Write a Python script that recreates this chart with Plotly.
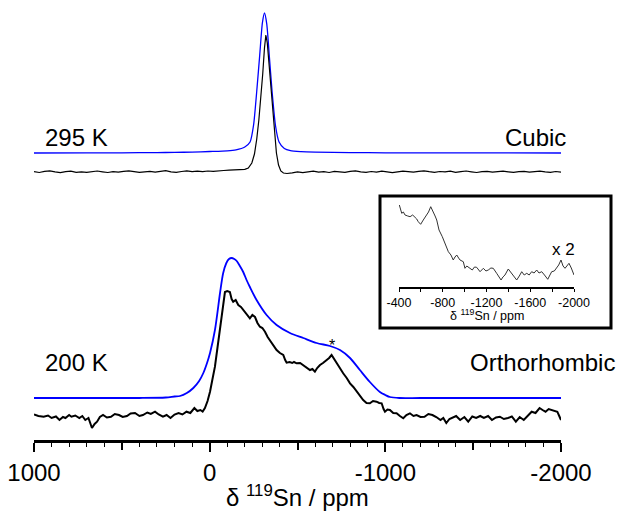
import plotly.graph_objects as go

# ---------------- data ----------------
# 295 K (cubic) fit (blue) : chemical shift (ppm) and intensity (a.u.)
top_fit_ppm = [1000, 700, 500, 300, 200, 100, 0, -100, -150, -200, -230, -250, -270, -285, -300, -312,
               -325, -340, -355, -375, -395, -425, -460, -520, -600, -800, -1000, -1400, -2000]
top_fit_int = [0, 0.1, 0.2, 0.4, 0.6, 0.9, 1.5, 2.2, 3.2, 6, 11, 28, 66, 98, 130, 140,
               129, 96, 62, 27, 11, 4.5, 2.3, 1.4, 0.9, 0.4, 0.2, 0.1, 0]

# 295 K experimental (black)
top_exp_ppm_left = [1000, 970, 940, 910, 880, 850, 820, 790, 760, 730,
                    700, 670, 640, 610, 580, 550, 520, 490, 460, 430,
                    400, 370, 340, 310, 280, 250, 220, 190, 160, 130,
                    100, 70, 40, 10, -20, -50, -80, -110, -140, -170]
top_exp_int_left = [0.3, -0.5, 0.6, 1.2, 0.1, -0.6, 0.4, 0.9, -0.3, 0.2,
                    -0.4, 0.5, 1.0, 0.2, -0.5, 0.3, -0.2, 0.7, 1.2, 0.4,
                    -0.3, 0.2, 0.6, -0.1, 0.8, 1.3, 0.2, -0.4, 0.5, 1.1,
                    0.3, 0.9, 0.4, 1.0, 0.6, 1.3, 1.5, 1.8, 2.1, 2.4]
top_exp_ppm_peak = [-200, -220, -240, -255, -268, -280, -292, -302, -312, -320,
                    -328, -338, -348, -358, -368, -380, -392, -405, -420, -440]
top_exp_int_peak = [2.6, 4, 9, 18, 33, 52, 74, 98, 124, 137,
                    129, 108, 84, 60, 40, 19, 7, 1, -1, -1.5]
top_exp_ppm_right = [-470, -500, -530, -560, -590, -620, -650, -680, -710, -740,
                     -770, -800, -830, -860, -890, -920, -950, -980, -1010, -1040,
                     -1070, -1100, -1130, -1160, -1190, -1220, -1250, -1280, -1310, -1340,
                     -1370, -1400, -1430, -1460, -1490, -1520, -1550, -1580, -1610, -1640,
                     -1670, -1700, -1730, -1760, -1790, -1820, -1850, -1880, -1910, -1940,
                     -1970, -2000]
top_exp_int_right = [-0.8, 0.2, -0.6, 0.4, 0.9, -0.2, 0.3, -0.5, 0.6, 0.1,
                     -0.4, 0.7, 1.1, 0.2, -0.3, 0.5, -0.1, 0.8, 0.3, -0.6,
                     0.2, 0.9, 0.4, -0.2, 0.6, 1.2, 0.3, -0.4, 0.5, 0.1,
                     0.8, -0.3, 0.4, 1.0, 0.2, -0.5, 0.3, 0.7, -0.1, 0.5,
                     0.9, 0.2, -0.4, 0.3, 0.6, -0.2, 0.4, 0.8, 0.1, -0.3,
                     0.5, -0.2]

# 200 K (orthorhombic) fit (blue)
bot_fit_ppm = [1000, 400, 250, 200, 169, 130, 93, 60, 36, 15,
               -2, -30, -59, -77, -95, -110, -125, -140, -154, -172,
               -191, -210, -229, -267, -324, -381, -457, -533, -609, -685,
               -742, -799, -855, -912, -969, -1000, -1026, -1080, -1200, -2000]
bot_fit_int = [0, 0, 0.5, 1.5, 2, 5, 10, 17, 25, 35,
               45, 68, 105, 125, 135, 139, 140, 139, 137, 132,
               126, 118, 111, 98, 83, 73, 65, 60, 55, 52,
               48, 40, 28, 16, 6, 3, 1, 0, 0, 0]

# 200 K experimental (black)
bot_exp_ppm = [1000, 975, 945, 920, 900, 875, 855, 835, 821, 800,
               787, 765, 742, 725, 708, 690, 670, 655, 641, 625,
               607, 585, 562, 540, 516, 495, 471, 450, 425, 400,
               380, 355, 335, 311, 290, 266, 245, 223, 200, 177,
               155, 132, 110, 87, 70, 53, 40, 27, 12, -2,
               -15, -30, -45, -59, -73, -87, -100, -115, -125, -134,
               -148, -163, -178, -191, -210, -229, -243, -258, -272, -286,
               -300, -315, -330, -343, -362, -381, -400, -419, -430, -438,
               -455, -470, -480, -495, -515, -533, -550, -571, -585, -599,
               -612, -628, -645, -666, -680, -694, -708, -723, -740, -760,
               -780, -799, -818, -837, -855, -874, -893, -912, -930, -950,
               -965, -979, -990, -998, -1012, -1026, -1045, -1064, -1083, -1102,
               -1120, -1140, -1160, -1178, -1200, -1223, -1245, -1268, -1290, -1314,
               -1330, -1347, -1365, -1381, -1403, -1426, -1450, -1472, -1495, -1517,
               -1540, -1561, -1585, -1607, -1630, -1652, -1675, -1698, -1720, -1743,
               -1765, -1788, -1810, -1833, -1855, -1878, -1895, -1912, -1930, -1946,
               -1962, -1979, -1990, -2000]
bot_exp_int = [0.5, -1, -1.7, -0.5, -3, -1.5, -5, -2, -3, 0,
               -1.7, -0.5, -3, -1, -5, -3, -13, -9, -6.7, -2,
               0, -2.5, -1.7, 1, 0, -2, -1, 1.5, 2, -1,
               0, 2.5, 1, 3.3, 0.5, -1.7, 0, -3, 0.5, 2,
               0.5, 3.3, 2, 7, 4, 5, 3.5, 7, 14, 23.3,
               35, 48.3, 68, 88.3, 106, 123, 124, 123, 116, 113.3,
               115, 110, 108, 105, 100, 96.7, 100, 98, 92, 88.3,
               87, 83.3, 78, 75, 70, 65, 62, 60, 55, 52.3,
               53, 52, 53, 51.7, 52, 50, 48, 45, 46, 43.3,
               47, 50, 52, 55, 57, 60, 56, 51.7, 47, 41.7,
               37, 31.7, 28, 23.3, 19, 15, 12, 11.7, 14, 13.3,
               12, 11.7, 6, 3.3, 5.5, 5, 2, 1.7, -1, -3.3,
               0, 1.7, -1, 0, -2, -1.7, 1, 0, -2, -5,
               -3, -8, -4, -3, -1, -5, -2, -6.7, -1.5, -3,
               -1, -3, -1, -5, -2.5, -1.7, -4, -3, -1.5, -6.7,
               -2, -5, -1, 3.3, 2, 7, 5, 3.3, 6, 5,
               4, 3.3, -1, -5]

# Inset (x 2)
inset_ppm = [-403, -425, -440, -455, -480, -501, -525, -546, -562, -576,
             -598, -622, -640, -653, -670, -690, -714, -730, -745, -766,
             -796, -821, -835, -851, -875, -896, -912, -928, -945, -958,
             -988, -1003, -1020, -1040, -1070, -1090, -1110, -1141, -1171, -1195,
             -1216, -1240, -1262, -1293, -1333, -1350, -1369, -1399, -1430, -1455,
             -1476, -1500, -1522, -1545, -1568, -1590, -1613, -1635, -1659, -1680,
             -1705, -1730, -1760, -1780, -1796, -1820, -1842, -1860, -1881, -1900,
             -1918, -1935, -1954, -1975, -2000]
inset_int = [82, 73.7, 75, 72, 71, 70.3, 72, 69.7, 68, 65.3,
             62.7, 67, 70, 72, 75, 80.3, 75.3, 71, 67, 57,
             50.3, 43.7, 40, 35.3, 32, 27, 30, 32, 29, 27,
             25.3, 18.7, 21, 19.7, 17, 20, 19.7, 15.3, 18.7, 16,
             17, 19, 18.7, 13.7, 7, 10, 12, 18, 13.7, 10,
             7, 11, 15.3, 12, 13.7, 12, 15.3, 14, 17, 14,
             15.3, 12, 7.7, 12, 15.3, 16, 18.7, 22, 27, 21,
             18.7, 21, 23.7, 19, 12]

main_label_vals = [1000, 0, -1000, -2000]
main_label_text = ["1000", "0", "-1000", "-2000"]
main_unlabeled_vals = [500, -500, -1500]
inset_tick_vals = [-400, -800, -1200, -1600, -2000]
inset_tick_text = ["-400", "-800", "-1200", "-1600", "-2000"]

# ---------------- layout constants ----------------
OFF_TOP_FIT, OFF_TOP_EXP = 287, 268
OFF_BOT_FIT, OFF_BOT_EXP = 42, 25
BLUE = "#0000ff"
FONT = "Arial, Liberation Sans, sans-serif"

assert len(top_fit_ppm) == len(top_fit_int)
assert len(top_exp_ppm_left) == len(top_exp_int_left)
assert len(top_exp_ppm_peak) == len(top_exp_int_peak)
assert len(top_exp_ppm_right) == len(top_exp_int_right)
assert len(bot_fit_ppm) == len(bot_fit_int)
assert len(bot_exp_ppm) == len(bot_exp_int)
assert len(inset_ppm) == len(inset_int)

top_exp_ppm = top_exp_ppm_left + top_exp_ppm_peak + top_exp_ppm_right
top_exp_int = top_exp_int_left + top_exp_int_peak + top_exp_int_right

fig = go.Figure()
fig.add_trace(go.Scatter(x=top_fit_ppm, y=[v + OFF_TOP_FIT for v in top_fit_int], mode="lines",
                         line=dict(color=BLUE, width=1.3, shape="spline", smoothing=0.6), hoverinfo="skip"))
fig.add_trace(go.Scatter(x=top_exp_ppm, y=[v + OFF_TOP_EXP for v in top_exp_int], mode="lines",
                         line=dict(color="black", width=1.2), hoverinfo="skip"))
fig.add_trace(go.Scatter(x=bot_fit_ppm, y=[v + OFF_BOT_FIT for v in bot_fit_int], mode="lines",
                         line=dict(color=BLUE, width=1.8, shape="spline", smoothing=0.8), hoverinfo="skip"))
fig.add_trace(go.Scatter(x=bot_exp_ppm, y=[v + OFF_BOT_EXP for v in bot_exp_int], mode="lines",
                         line=dict(color="black", width=2), hoverinfo="skip"))
fig.add_trace(go.Scatter(x=inset_ppm, y=inset_int, mode="lines", xaxis="x2", yaxis="y2",
                         line=dict(color="#333333", width=1), hoverinfo="skip"))
# carrier for the overlay axis holding the unlabeled long ticks
fig.add_trace(go.Scatter(x=main_unlabeled_vals, y=[None] * len(main_unlabeled_vals), mode="lines",
                         xaxis="x3", yaxis="y", hoverinfo="skip", showlegend=False))

W_FIG, H_FIG = 618, 513
L, B = 34, 73
W_PLOT = W_FIG - L
H_PLOT = H_FIG - B


def px(xp):
    return (xp - L) / W_PLOT


def py(yp):
    return (H_PLOT - yp) / H_PLOT


xdom = [0, px(561)]
fig.update_layout(
    template="none",
    width=W_FIG, height=H_FIG, autosize=False,
    margin=dict(l=L, r=0, t=0, b=B, pad=0, autoexpand=False),
    paper_bgcolor="white", plot_bgcolor="white",
    showlegend=False,
    font=dict(family=FONT, color="black"),
    xaxis=dict(domain=xdom, range=[1000, -2000], anchor="y", automargin=False,
               showline=True, linewidth=3, linecolor="black", mirror=False,
               ticks="outside", ticklen=9, tickwidth=1.5, tickcolor="black",
               tickmode="array", tickvals=main_label_vals, ticktext=main_label_text,
               tickfont=dict(size=24, family=FONT),
               minor=dict(tick0=0, dtick=100, ticks="outside", ticklen=4, tickwidth=1, tickcolor="black",
                          showgrid=False),
               showgrid=False, zeroline=False),
    xaxis3=dict(domain=xdom, range=[1000, -2000], anchor="y", overlaying="x", side="bottom",
                automargin=False,
                showline=False, ticks="outside", ticklen=9, tickwidth=1.5, tickcolor="black",
                tickmode="array", tickvals=main_unlabeled_vals, showticklabels=False,
                showgrid=False, zeroline=False),
    yaxis=dict(domain=[0, 1], range=[0, 440], visible=False, anchor="x", automargin=False,
               showgrid=False, zeroline=False),
    xaxis2=dict(domain=[px(399), px(574)], range=[-400, -2000], anchor="y2", automargin=False,
                showline=True, linewidth=1.5, linecolor="black",
                ticks="outside", ticklen=3, tickwidth=1, tickcolor="black",
                tickmode="array", tickvals=inset_tick_vals, ticktext=inset_tick_text,
                tickfont=dict(size=12.5, family=FONT),
                minor=dict(tick0=-400, dtick=200, ticks="outside", ticklen=3, tickwidth=1, tickcolor="black",
                           showgrid=False),
                showgrid=False, zeroline=False),
    yaxis2=dict(domain=[py(287), py(200)], range=[0, 87], visible=False, anchor="x2", automargin=False,
                showgrid=False, zeroline=False),
    shapes=[dict(type="rect", xref="paper", yref="paper",
                 x0=px(380), x1=px(611), y0=py(328), y1=py(196),
                 line=dict(color="black", width=3), fillcolor="rgba(0,0,0,0)", layer="below")],
)

ann = [
    dict(text="295 K", x=px(43), y=py(137), xanchor="left", yanchor="middle", size=24),
    dict(text="Cubic", x=px(568), y=py(137), xanchor="right", yanchor="middle", size=24),
    dict(text="200 K", x=px(43), y=py(362), xanchor="left", yanchor="middle", size=24),
    dict(text="Orthorhombic", x=px(617), y=py(362), xanchor="right", yanchor="middle", size=24),
    dict(text="*", x=px(332), y=py(345), xanchor="center", yanchor="middle", size=16),
    dict(text="x 2", x=px(563), y=py(250), xanchor="center", yanchor="middle", size=17),
    dict(text="δ <sup>119</sup>Sn / ppm", x=px(297.5), y=py(496), xanchor="center", yanchor="middle", size=24),
    dict(text="δ <sup>119</sup>Sn / ppm", x=px(486.5), y=py(315), xanchor="center", yanchor="middle", size=12.5),
]
for a in ann:
    fig.add_annotation(text=a["text"], x=a["x"], y=a["y"], xref="paper", yref="paper",
                       xanchor=a["xanchor"], yanchor=a["yanchor"], showarrow=False,
                       font=dict(size=a["size"], family=FONT, color="black"))

post = ("document.body.style.margin='0';document.body.style.overflow='hidden';"
        "var gd=document.getElementById('{plot_id}');"
        "Plotly.relayout(gd,{width:%d,height:%d});" % (W_FIG, H_FIG))
fig.write_html("out.html", config={"responsive": False, "displayModeBar": False}, post_script=post)
